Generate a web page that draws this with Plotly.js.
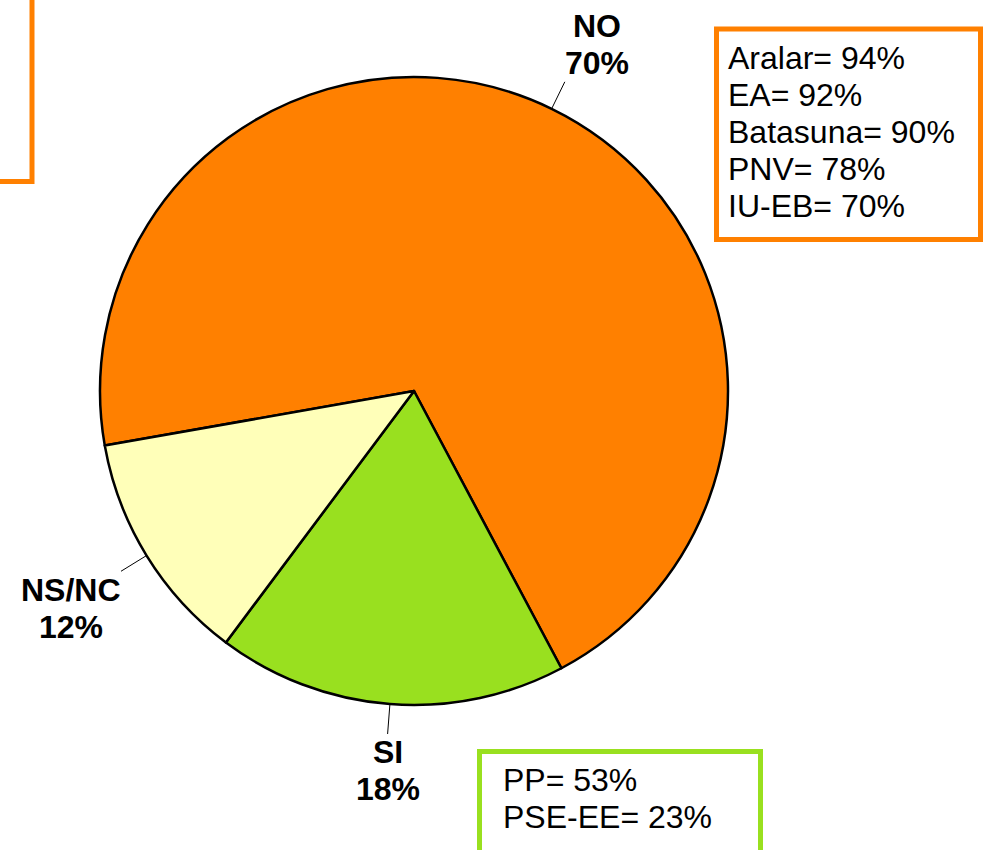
<!DOCTYPE html>
<html>
<head>
<meta charset="utf-8">
<script src="https://cdn.plot.ly/plotly-3.0.1.min.js"></script>
<style>html,body{margin:0;padding:0;background:#fff;}#chart{width:988px;height:850px;}</style>
</head>
<body>
<div id="chart"></div>
<script>
// Data
var categories = ["NO", "SI", "NS/NC"];
var values = [70, 18, 12];
var sliceColors = ["#FF8000", "#99E01F", "#FFFFB9"];
var noParties = ["Aralar", "EA", "Batasuna", "PNV", "IU-EB"];
var noPartyValues = [94, 92, 90, 78, 70];
var siParties = ["PP", "PSE-EE"];
var siPartyValues = [53, 23];

// Layout constants (pixels)
var W = 988, H = 850;
var cx = 414, cy = 391, R = 314;
var rotation = -100;
var leader = 30;
var FONT = "Liberation Sans, Arial, sans-serif";
var FS = 32;
var LINE = 37;

function px(x){ return x / W; }
function py(y){ return 1 - y / H; }

var ctx = document.createElement("canvas").getContext("2d");
function textWidth(t, bold){
  ctx.font = (bold ? "bold " : "") + FS + "px 'Liberation Sans', Arial, sans-serif";
  return ctx.measureText(t).width;
}

var total = values.reduce(function(a,b){return a+b;}, 0);

var trace = {
  type: "pie",
  labels: categories,
  values: values,
  sort: false,
  direction: "clockwise",
  rotation: rotation,
  textinfo: "none",
  hoverinfo: "none",
  marker: {colors: sliceColors, line: {color: "#000000", width: 2.5}},
  domain: {x: [px(cx - R), px(cx + R)], y: [py(cy + R), py(cy - R)]},
  showlegend: false
};

var shapes = [];
var annotations = [];

function addLine(text, xPix, yPix, xanchor, bold){
  annotations.push({xref: "paper", yref: "paper", x: px(xPix), y: py(yPix),
    xanchor: xanchor, yanchor: "middle", showarrow: false,
    text: bold ? "<b>" + text + "</b>" : text,
    font: {family: FONT, size: FS, color: "#000000"}});
}

var cum = 0;
for (var i = 0; i < values.length; i++) {
  var midDeg = rotation + (cum + values[i] / 2) / total * 360;
  cum += values[i];
  var t = midDeg * Math.PI / 180;
  var s = Math.sin(t), c = Math.cos(t);
  var x1 = cx + R * s, y1 = cy - R * c;
  var x2 = cx + (R + leader) * s, y2 = cy - (R + leader) * c;
  shapes.push({type: "line", xref: "paper", yref: "paper",
    x0: px(x1), y0: py(y1), x1: px(x2), y1: py(y2),
    line: {color: "#000000", width: 1}});
  var lines = [categories[i], Math.round(values[i] / total * 100) + "%"];
  var w = Math.max(textWidth(lines[0], true), textWidth(lines[1], true));
  var bx = s > 0.2 ? x2 + w / 2 : (s < -0.2 ? x2 - w / 2 : x2);
  for (var k = 0; k < lines.length; k++) {
    var ly = c > 0 ? y2 - 18.5 - (lines.length - 1 - k) * LINE : y2 + 18.5 + k * LINE;
    addLine(lines[k], bx, ly, "center", true);
  }
}

// Boxes
shapes.push({type: "rect", xref: "paper", yref: "paper",
  x0: px(716.5), x1: px(980.5), y0: py(29), y1: py(239.5),
  line: {color: "#FF8000", width: 5}, fillcolor: "rgba(0,0,0,0)"});
shapes.push({type: "rect", xref: "paper", yref: "paper",
  x0: px(479.5), x1: px(760.5), y0: py(751.5), y1: py(900),
  line: {color: "#99E01F", width: 5}, fillcolor: "rgba(0,0,0,0)"});
shapes.push({type: "rect", xref: "paper", yref: "paper",
  x0: px(-40), x1: px(32), y0: py(-40), y1: py(181.5),
  line: {color: "#FF8000", width: 5}, fillcolor: "rgba(0,0,0,0)"});

noParties.forEach(function(p, k){
  addLine(p + "= " + noPartyValues[k] + "%", 726, 58 + k * LINE, "left", false);
});
siParties.forEach(function(p, k){
  addLine(p + "= " + siPartyValues[k] + "%", 501, 780 + k * LINE, "left", false);
});

var layout = {
  width: W, height: H,
  margin: {l: 0, r: 0, t: 0, b: 0},
  paper_bgcolor: "#FFFFFF",
  plot_bgcolor: "#FFFFFF",
  showlegend: false,
  shapes: shapes,
  annotations: annotations
};

Plotly.newPlot("chart", [trace], layout, {displayModeBar: false, staticPlot: true});
</script>
</body>
</html>
